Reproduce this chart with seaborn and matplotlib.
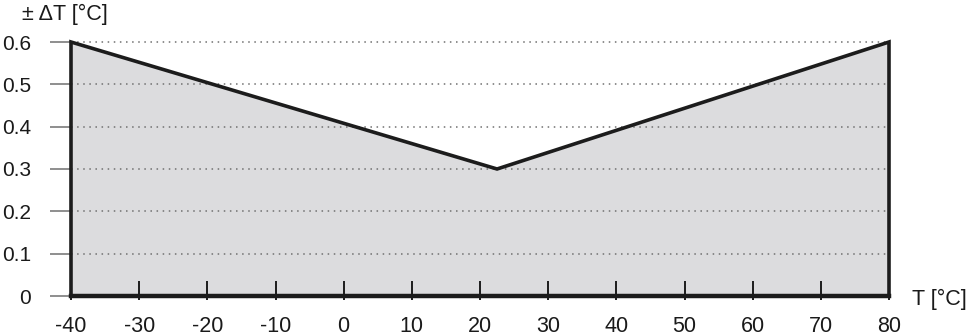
import matplotlib
matplotlib.use("Agg")
import matplotlib.pyplot as plt
import seaborn as sns
import numpy as np

# data
T = [-40, 22.5, 80]
dT = [0.6, 0.3, 0.6]
xticks = [-40, -30, -20, -10, 0, 10, 20, 30, 40, 50, 60, 70, 80]
yticks = [0, 0.1, 0.2, 0.3, 0.4, 0.5, 0.6]
ytick_labels = ["0", "0.1", "0.2", "0.3", "0.4", "0.5", "0.6"]

sns.set_style("white")
plt.rcParams['font.family'] = ['Liberation Sans', 'DejaVu Sans']

W, H = 967, 336
fig = plt.figure(figsize=(W / 100, H / 100), dpi=100)
ax = fig.add_axes([71 / W, (H - 296) / H, (889 - 71) / W, (296 - 42) / H])
ax.set_axisbelow(False)

px = 72 / 100  # points per pixel
line_col = "#1c1c1c"
fill_col = "#dcdcde"
fs = 15.5

xs = [T[0]] + T + [T[-1]]
ys = [0] + dT + [0]

# gridlines
for y in yticks[1:]:
    ax.axhline(y, color="#707070", lw=1.1, ls=(0, (1, 3.0)), zorder=3, clip_on=False)

ax.fill(xs, ys, facecolor=fill_col, edgecolor="none", zorder=0.5)
sns.lineplot(x=xs, y=ys, sort=False, estimator=None, color=line_col,
             lw=2.6, ax=ax, zorder=4)
for l in ax.lines:
    l.set_solid_joinstyle("miter")
    l.set_clip_on(False)

ax.set_xlim(T[0], T[-1])
ax.set_ylim(0, max(dT))

for s in ["top", "right", "left"]:
    ax.spines[s].set_visible(False)
ax.spines["bottom"].set_linewidth(3.2)
ax.spines["bottom"].set_color(line_col)
ax.spines["bottom"].set_zorder(5)

ax.set_xticks(xticks)
ax.set_xticklabels([str(v) for v in xticks])
ax.set_xticks(xticks, minor=True)
ax.xaxis.remove_overlapping_locs = False
ax.tick_params(axis="x", which="major", bottom=True, direction="in", length=15 * px,
               width=1.4, color=line_col, pad=20 * px, labelsize=fs,
               labelcolor="#1a1a1a")
ax.tick_params(axis="x", which="minor", bottom=True, direction="out", length=4 * px,
               width=1.4, color=line_col)
ax.set_yticks(yticks)
ax.set_yticklabels(ytick_labels)
ax.tick_params(axis="y", left=True, direction="out", length=21 * px, width=1.1,
               color="#707070", pad=19 * px, labelsize=15, labelcolor="#1a1a1a")
ax.set_xlabel("")
ax.set_ylabel("")

fig.text(22 / W, 1 - 14 / H, "± ΔT [°C]", fontsize=fs, ha="left", va="center",
         color="#1a1a1a")
fig.text(912 / W, 1 - 299 / H, "T [°C]", fontsize=fs, ha="left", va="center",
         color="#1a1a1a")

fig.savefig("out.png", dpi=100)
